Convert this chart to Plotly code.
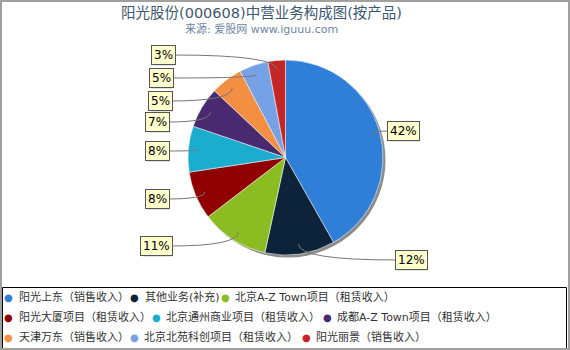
import math
import plotly.graph_objects as go

W, H = 570, 350

names = ["阳光上东（销售收入）", "其他业务(补充)", "北京A-Z Town项目（租赁收入）",
         "阳光大厦项目（租赁收入）", "北京通州商业项目（租赁收入）", "成都A-Z Town项目（租赁收入）",
         "天津万东（销售收入）", "北京北苑科创项目（租赁收入）", "阳光丽景（销售收入）"]
values = [41.8, 11.6, 11.2, 8.0, 7.6, 6.8, 5.3, 4.8, 2.9]
colors = ["#2f7ed8", "#0d233a", "#8bbc21", "#910000", "#1aadce",
          "#492970", "#f28f43", "#77a1e5", "#c42525"]

# layout constants (pixels)
CX, CY, R = 285.5, 157.5, 97.5
FONT = "DejaVu Sans, Noto Sans CJK SC, sans-serif"

def px(x):
    return x / W

def py(y):
    return 1 - y / H

fig = go.Figure()

# shadow
sh = 2.5
fig.add_trace(go.Pie(
    values=[sum(values)], marker=dict(colors=["rgba(0,0,0,0.45)"], line=dict(width=0)),
    textinfo="none", hoverinfo="skip", showlegend=False, sort=False,
    domain=dict(x=[px(CX - R + sh), px(CX + R + sh)], y=[py(CY + R + sh), py(CY - R + sh)]),
))

fig.add_trace(go.Pie(
    labels=names, values=values, sort=False, direction="clockwise", rotation=0,
    marker=dict(colors=colors, line=dict(color="rgba(255,255,255,0.55)", width=1)),
    textinfo="none", showlegend=False,
    domain=dict(x=[px(CX - R), px(CX + R)], y=[py(CY + R), py(CY - R)]),
))

annotations = []
shapes = []

# title
annotations.append(dict(x=px(261), y=py(13), xref="paper", yref="paper", showarrow=False,
                        text="阳光股份(000608)中营业务构成图(按产品)",
                        font=dict(family=FONT, size=14.5, color="#3e576f"),
                        xanchor="center", yanchor="middle"))
annotations.append(dict(x=px(261), y=py(29), xref="paper", yref="paper", showarrow=False,
                        text="来源: 爱股网 www.iguuu.com",
                        font=dict(family=FONT, size=11, color="#6d869f"),
                        xanchor="center", yanchor="middle"))

# data labels with curved leader lines
label_pos = [(403, 131), (411, 260), (156, 246), (157, 199), (157, 151),
             (158, 122), (160, 101), (161, 78), (163, 55)]
total = sum(values)
cum = 0.0
for v, (bx, by) in zip(values, label_pos):
    mid = (cum + v / 2) / total * 2 * math.pi
    cum += v
    hx = CX + 0.9 * R * math.sin(mid)
    hy = CY - 0.9 * R * math.cos(mid)
    txt = f"{round(v / total * 100)}%"
    hw = 3.8 * len(txt) + 3
    side = 1 if bx > hx else -1
    ex = bx - side * hw
    path = (f"M {px(hx)},{py(hy)} Q {px(hx)},{py(by)} {px(ex)},{py(by)}")
    shapes.append(dict(type="path", xref="paper", yref="paper", path=path,
                       line=dict(color="#777", width=1), layer="above"))
    shapes.append(dict(type="rect", xref="paper", yref="paper",
                       x0=px(bx - hw + 1.5), x1=px(bx + hw + 1.5),
                       y0=py(by + 9 + 1.5), y1=py(by - 9 + 1.5),
                       fillcolor="rgba(0,0,0,0.22)", line=dict(width=0), layer="above"))
    annotations.append(dict(x=px(bx), y=py(by), xref="paper", yref="paper",
                            xanchor="center", yanchor="middle", showarrow=False, text=txt,
                            font=dict(family=FONT, size=12, color="#000"),
                            bgcolor="#ffffcc", borderpad=2, borderwidth=1, bordercolor="#555"))

# legend (as text)
legend_rows = [(297, [0, 1, 2], [134, 225], [143, 233]),
               (317, [3, 4, 5], [156, 327], [164, 335]),
               (337, [6, 7, 8], [134, 306], [142, 314])]
for ry, idxs, dots, texts in legend_rows:
    dxs = [8] + dots
    txs = [17] + texts
    for i, dx, tx in zip(idxs, dxs, txs):
        annotations.append(dict(x=px(dx), y=py(ry), xref="paper", yref="paper", showarrow=False,
                                text="●", font=dict(family="DejaVu Sans", size=10, color=colors[i]),
                                xanchor="center", yanchor="middle"))
        annotations.append(dict(x=px(tx), y=py(ry), xref="paper", yref="paper", showarrow=False,
                                text=names[i], font=dict(family=FONT, size=11, color="#333"),
                                xanchor="left", yanchor="middle"))

shapes.append(dict(type="rect", xref="paper", yref="paper",
                   x0=px(2.5), x1=px(566.5), y0=py(348.5), y1=py(287.5),
                   line=dict(color="#000", width=1)))
shapes.append(dict(type="rect", xref="paper", yref="paper",
                   x0=px(1), x1=px(569), y0=py(349), y1=py(1),
                   line=dict(color="#a0a0a0", width=2)))

fig.update_layout(width=W, height=H, margin=dict(l=0, r=0, t=0, b=0),
                  paper_bgcolor="white", plot_bgcolor="white",
                  annotations=annotations, shapes=shapes, showlegend=False)

fig.write_html("out.html", config={"displayModeBar": False})
